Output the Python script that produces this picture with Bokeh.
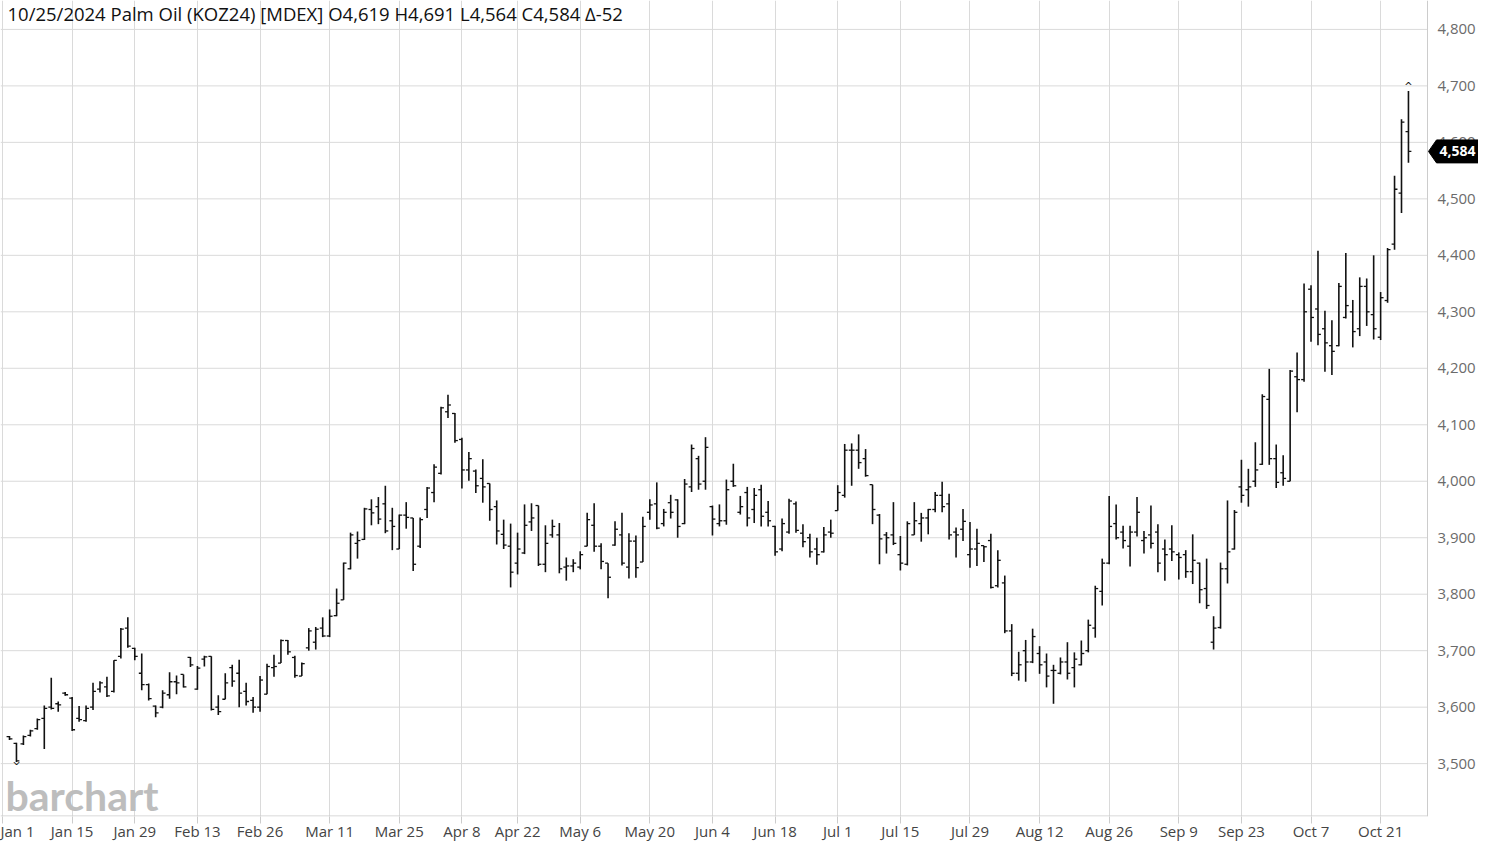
import numpy as np
import pandas as pd
from bokeh.plotting import figure
from bokeh.models import (ColumnDataSource, FixedTicker, Range1d, Label, Span)
from bokeh.core.properties import value
from bokeh.embed import file_html
from bokeh.resources import INLINE

# ---------------- data ----------------
opens = [3548, 3536, 3535, 3550, 3562, 3580, 3600, 3606, 3625, 3616,
         3580, 3576, 3600, 3632, 3636, 3628, 3690, 3740, 3704, 3660,
         3640, 3602, 3600, 3622, 3645, 3658, 3688, 3632, 3685, 3690,
         3600, 3614, 3670, 3660, 3628, 3612, 3600, 3623, 3670, 3678,
         3718, 3688, 3655, 3705, 3715, 3740, 3726, 3762, 3790, 3845,
         3890, 3897, 3950, 3955, 3960, 3930, 3880, 3940, 3935, 3885,
         3950, 3980, 4014, 4123, 4120, 4074, 4020, 4018, 4005, 3996,
         3955, 3906, 3885, 3855, 3873, 3928, 3957, 3853, 3905, 3905,
         3848, 3850, 3848, 3885, 3922, 3885, 3855, 3887, 3905, 3848,
         3894, 3857, 3945, 3960, 3925, 3962, 3967, 3925, 3990, 4040,
         4000, 3955, 3925, 3930, 4000, 3945, 3980, 3950, 3985, 3945,
         3920, 3880, 3910, 3960, 3908, 3900, 3880, 3875, 3910, 3948,
         3975, 4055, 4055, 4040, 3994, 3940, 3905, 3905, 3870, 3853,
         3905, 3925, 3935, 3950, 3975, 3960, 3910, 3915, 3870, 3880,
         3886, 3895, 3815, 3820, 3735, 3660, 3700, 3680, 3695, 3680,
         3665, 3660, 3680, 3670, 3675, 3700, 3740, 3805, 3855, 3925,
         3910, 3885, 3910, 3895, 3905, 3910, 3880, 3880, 3870, 3870,
         3840, 3855, 3810, 3715, 3741, 3845, 3880, 3990, 3985, 4000,
         4030, 4145, 4040, 4015, 4000, 4185, 4180, 4340, 4305, 4270,
         4240, 4240, 4290, 4300, 4270, 4345, 4295, 4255, 4320, 4420,
         4510, 4619]
highs = [3549, 3537, 3550, 3560, 3580, 3603, 3652, 3610, 3627, 3618,
         3602, 3603, 3643, 3646, 3654, 3683, 3740, 3759, 3705, 3695,
         3642, 3603, 3630, 3662, 3656, 3658, 3689, 3673, 3691, 3690,
         3621, 3660, 3675, 3684, 3643, 3618, 3655, 3677, 3693, 3720,
         3719, 3691, 3679, 3740, 3742, 3759, 3773, 3810, 3856, 3909,
         3911, 3953, 3968, 3972, 3992, 3953, 3941, 3963, 3935, 3936,
         3990, 4030, 4132, 4153, 4121, 4077, 4052, 4021, 4039, 3996,
         3966, 3932, 3925, 3909, 3959, 3961, 3957, 3922, 3932, 3926,
         3865, 3862, 3876, 3944, 3961, 3890, 3855, 3929, 3944, 3908,
         3904, 3937, 3968, 3998, 3951, 3976, 3968, 4004, 4065, 4045,
         4078, 3957, 3959, 4003, 4031, 3974, 3990, 3988, 3994, 3965,
         3921, 3934, 3969, 3964, 3924, 3907, 3900, 3919, 3932, 3993,
         4066, 4067, 4083, 4057, 3994, 3942, 3910, 3963, 3903, 3929,
         3963, 3944, 3951, 3981, 3999, 3978, 3918, 3951, 3928, 3916,
         3886, 3907, 3878, 3833, 3747, 3698, 3719, 3739, 3708, 3695,
         3675, 3688, 3715, 3697, 3718, 3755, 3815, 3863, 3974, 3959,
         3921, 3921, 3972, 3912, 3957, 3924, 3897, 3922, 3874, 3878,
         3906, 3856, 3863, 3761, 3856, 3966, 3949, 4038, 4022, 4069,
         4154, 4199, 4065, 4046, 4197, 4228, 4350, 4347, 4408, 4302,
         4285, 4351, 4404, 4321, 4361, 4359, 4400, 4335, 4413, 4541,
         4641, 4691]
lows = [3542, 3503, 3533, 3548, 3560, 3526, 3596, 3592, 3620, 3558,
        3574, 3574, 3595, 3626, 3618, 3626, 3686, 3705, 3683, 3630,
        3612, 3582, 3598, 3615, 3623, 3635, 3671, 3631, 3672, 3594,
        3586, 3614, 3636, 3600, 3603, 3590, 3592, 3623, 3654, 3678,
        3693, 3652, 3655, 3700, 3702, 3724, 3724, 3761, 3790, 3844,
        3863, 3896, 3922, 3924, 3908, 3878, 3880, 3916, 3841, 3882,
        3935, 3963, 4012, 4112, 4068, 3987, 4001, 3979, 3962, 3930,
        3888, 3880, 3812, 3835, 3871, 3912, 3850, 3839, 3900, 3837,
        3824, 3839, 3844, 3885, 3875, 3844, 3793, 3886, 3851, 3828,
        3829, 3857, 3932, 3915, 3920, 3934, 3900, 3924, 3981, 3985,
        3985, 3904, 3920, 3923, 3990, 3941, 3920, 3926, 3920, 3920,
        3868, 3876, 3907, 3909, 3883, 3865, 3852, 3874, 3900, 3948,
        3971, 3992, 4022, 4008, 3924, 3853, 3872, 3887, 3842, 3851,
        3905, 3893, 3906, 3945, 3945, 3897, 3865, 3894, 3847, 3850,
        3857, 3810, 3812, 3731, 3655, 3647, 3645, 3678, 3659, 3635,
        3606, 3658, 3649, 3635, 3674, 3697, 3723, 3780, 3853, 3897,
        3881, 3849, 3902, 3872, 3881, 3839, 3824, 3859, 3826, 3829,
        3818, 3784, 3774, 3702, 3739, 3819, 3879, 3962, 3955, 3990,
        4029, 4029, 3988, 3992, 4000, 4122, 4176, 4247, 4241, 4194,
        4188, 4239, 4288, 4237, 4257, 4275, 4251, 4250, 4316, 4410,
        4475, 4564]
closes = [3544, 3505, 3548, 3558, 3578, 3598, 3598, 3604, 3622, 3560,
          3578, 3598, 3628, 3643, 3620, 3683, 3738, 3708, 3690, 3640,
          3615, 3590, 3625, 3645, 3643, 3636, 3675, 3669, 3689, 3596,
          3592, 3643, 3646, 3625, 3610, 3600, 3648, 3672, 3672, 3718,
          3698, 3656, 3677, 3735, 3738, 3726, 3761, 3784, 3855, 3905,
          3895, 3951, 3944, 3933, 3912, 3920, 3940, 3936, 3853, 3932,
          3988, 4025, 4130, 4135, 4072, 4020, 4040, 3992, 3990, 3950,
          3912, 3887, 3839, 3880, 3922, 3935, 3853, 3890, 3920, 3845,
          3850, 3855, 3870, 3932, 3885, 3858, 3830, 3915, 3855, 3894,
          3847, 3920, 3958, 3917, 3945, 3945, 3920, 3995, 4058, 3995,
          4060, 3933, 3930, 3985, 3992, 3955, 3935, 3975, 3938, 3930,
          3875, 3925, 3965, 3913, 3893, 3875, 3870, 3905, 3908, 3980,
          4055, 4055, 4033, 4010, 3950, 3898, 3900, 3890, 3855, 3925,
          3930, 3935, 3950, 3975, 3955, 3905, 3905, 3929, 3880, 3890,
          3884, 3812, 3860, 3735, 3660, 3675, 3680, 3725, 3675, 3655,
          3665, 3680, 3660, 3685, 3695, 3745, 3810, 3855, 3920, 3900,
          3895, 3910, 3945, 3900, 3890, 3855, 3870, 3875, 3865, 3840,
          3860, 3808, 3780, 3740, 3845, 3875, 3945, 3975, 3990, 4020,
          4150, 4040, 3998, 4005, 4195, 4180, 4300, 4290, 4260, 4245,
          4230, 4345, 4311, 4265, 4345, 4300, 4270, 4325, 4410, 4517,
          4636, 4584]

holidays = ["2024-01-01", "2024-01-25", "2024-02-09", "2024-02-12", "2024-03-28",
            "2024-04-10", "2024-04-11", "2024-05-01", "2024-05-22", "2024-06-03",
            "2024-06-17", "2024-07-08", "2024-09-16"]
tick_dates = ["2024-01-15", "2024-01-29", "2024-02-13", "2024-02-26", "2024-03-11",
              "2024-03-25", "2024-04-08", "2024-04-22", "2024-05-06", "2024-05-20",
              "2024-06-04", "2024-06-18", "2024-07-01", "2024-07-15", "2024-07-29",
              "2024-08-12", "2024-08-26", "2024-09-09", "2024-09-23", "2024-10-07",
              "2024-10-21"]
tick_labels = ["Jan 15", "Jan 29", "Feb 13", "Feb 26", "Mar 11", "Mar 25", "Apr 8",
               "Apr 22", "May 6", "May 20", "Jun 4", "Jun 18", "Jul 1", "Jul 15",
               "Jul 29", "Aug 12", "Aug 26", "Sep 9", "Sep 23", "Oct 7", "Oct 21"]
first_label = "Jan 1"          # the holiday slot just before the first bar
y_ticks = [3500, 3600, 3700, 3800, 3900, 4000, 4100, 4200, 4300, 4400, 4500, 4600, 4700, 4800]
title_text = "10/25/2024 Palm Oil (KOZ24) [MDEX] O4,619 H4,691 L4,564 C4,584 \u0394-52"

# ---------------- derived ----------------
all_days = pd.bdate_range("2024-01-01", "2024-10-25")
dates = [d.strftime("%Y-%m-%d") for d in all_days if d.strftime("%Y-%m-%d") not in holidays]
n = len(closes)
dates = dates[:n]
tick_pos = [-1] + [int(np.searchsorted(np.array(dates), td)) for td in tick_dates]
all_labels = [first_label] + tick_labels

idx = np.arange(n, dtype=float)
half = 0.42
src = ColumnDataSource(dict(x=idx, xl=idx - half, xr=idx + half,
                            o=opens, h=highs, l=lows, c=closes))

# ---------------- geometry ----------------
W, H = 1478, 843
FR_H = 818                      # plot frame height (x axis panel below)
PLOT_R = 1427                   # right edge of the price area (labels live to its right)
px_x = 6.96                     # pixels per trading day
X0 = -9 / px_x
X1 = X0 + W / px_x
Y0, Y1 = 3406.4, 4851.2
px_y = FR_H / (Y1 - Y0)


def xs(px):
    return X0 + px / px_x


def ys(px_from_top):
    return Y1 - px_from_top / px_y


p = figure(width=W, height=H, x_range=Range1d(X0, X1), y_range=Range1d(Y0, Y1),
           output_backend="svg", toolbar_location=None, y_axis_location=None,
           min_border_left=0, min_border_right=0, min_border_top=0,
           min_border_bottom=H - FR_H, outline_line_color=None,
           background_fill_color="white", border_fill_color="white")

grid_col = "#dadada"
p.xgrid.ticker = FixedTicker(ticks=tick_pos)
p.xgrid.grid_line_color = grid_col
for g in p.ygrid:
    g.visible = False

# horizontal grid lines stop at the right edge of the price area
p.segment(x0=[X0] * len(y_ticks), y0=y_ticks, x1=[xs(PLOT_R)] * len(y_ticks), y1=y_ticks,
          line_color=grid_col, line_width=1)
# right border and bottom rule of the price area
p.add_layout(Span(location=xs(PLOT_R), dimension="height", line_color="#cccccc", line_width=1))
p.segment(x0=[X0], y0=[Y0 + 0.5 / px_y], x1=[xs(PLOT_R)], y1=[Y0 + 0.5 / px_y],
          line_color="#cccccc", line_width=1)

xa = p.xaxis[0]
xa.ticker = FixedTicker(ticks=tick_pos)
xa.major_label_overrides = {int(t): lbl for t, lbl in zip(tick_pos, all_labels)}
xa.axis_line_color = None
xa.major_tick_line_color = "#cccccc"
xa.major_tick_out = 7
xa.major_tick_in = 0
xa.minor_tick_line_color = None
xa.major_label_standoff = -3
xa.major_label_text_font = "Open Sans"
xa.major_label_text_font_size = "15px"
xa.major_label_text_color = "#444444"

# price scale labels (right of the price area)
p.text(x=[xs(1437)] * len(y_ticks), y=y_ticks, text=[f"{v:,}" for v in y_ticks],
       text_align="left", text_baseline="middle", text_font=value("Open Sans"),
       text_font_size="15px", text_color="#6b6b6b")

# OHLC bars
bar_col = "#111111"
p.segment(x0="x", y0="l", x1="x", y1="h", source=src, line_color=bar_col, line_width=1.6)
p.segment(x0="xl", y0="o", x1="x", y1="o", source=src, line_color=bar_col, line_width=1.3)
p.segment(x0="x", y0="c", x1="xr", y1="c", source=src, line_color=bar_col, line_width=1.3)

# high / low markers
imax = int(np.argmax(highs))
imin = int(np.argmin(lows))
p.text(x=[idx[imax]], y=[highs[imax] - 1 / px_y], text=["^"], text_align="center",
       text_baseline="bottom", text_font=value("DejaVu Sans"), text_font_size="10px",
       text_color=bar_col)
p.text(x=[idx[imin]], y=[lows[imin] + 7 / px_y], text=["^"], text_align="center",
       text_baseline="bottom", text_font=value("DejaVu Sans"), text_font_size="10px",
       text_color=bar_col, angle=np.pi)

# last-price tag
last = closes[-1]
hh = 11.5 / px_y
p.patch(x=[xs(PLOT_R + 1), xs(1436), xs(W), xs(W), xs(1436)],
        y=[last, last + hh, last + hh, last - hh, last - hh],
        fill_color="black", line_color="black", line_width=1)
p.text(x=[xs(1457)], y=[last], text=[f"{last:,}"], text_align="center",
       text_baseline="middle", text_font=value("Open Sans"), text_font_style="bold",
       text_font_size="14px", text_color="white")

# header
p.add_layout(Label(x=xs(7), y=ys(13), text=title_text, text_align="left",
                   text_baseline="middle", text_font="Open Sans", text_font_size="18.5px",
                   text_color="#111111"))

# watermark
p.add_layout(Label(x=xs(5), y=ys(797), text="barchart", text_align="left",
                   text_baseline="alphabetic", text_font="Lato", text_font_style="bold",
                   text_font_size="41px", text_color="#bdbdbd"))

open("out.html", "w").write(file_html(p, INLINE))
